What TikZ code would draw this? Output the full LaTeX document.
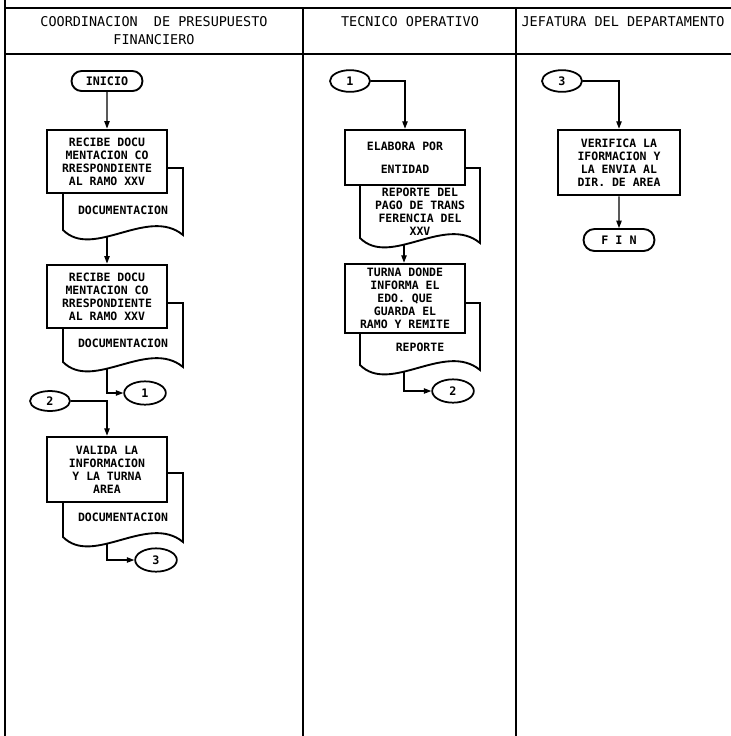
\documentclass[tikz,border=0pt]{standalone}
\usepackage{fontspec}
\setmonofont{DejaVu Sans Mono}
\usetikzlibrary{arrows.meta,shapes.geometric,shapes.misc}

% document sheet with wavy bottom: x, y, height, name, text height, text
\newcommand{\docpage}[6]{%
  \begin{scope}[shift={(#1,#2)}]
    \draw[docline] (0,0) -- (120,0) -- (120,#3+5) .. controls (85,#3-24) and (30,#3+30) .. (0,#3) -- cycle;
    \node[doctext] (#4txt) at (60,#5) {#6};
    \coordinate (#4) at (44,#3+7);
  \end{scope}}

\begin{document}
\begin{tikzpicture}[x=0.3mm,y=-0.3mm,font=\ttfamily,
    lane/.style={line width=0.9pt},
    head/.style={align=center,font=\ttfamily\fontsize{11.5}{15.3}\selectfont},
    proc/.style={draw,line width=2.2pt,fill=white,minimum width=36mm,inner sep=1pt,align=center,font=\ttfamily\bfseries\fontsize{9.8}{11}\selectfont},
    docline/.style={line width=1.6pt,fill=white},
    doctext/.style={align=center,inner sep=1pt,font=\ttfamily\bfseries\fontsize{9.8}{11}\selectfont},
    term/.style={draw,rounded rectangle,line width=1.6pt,fill=white,minimum width=22mm,minimum height=6mm,inner sep=1pt,font=\ttfamily\bfseries\fontsize{10}{10}\selectfont},
    conn/.style={draw,ellipse,line width=1.5pt,fill=white,minimum width=12.5mm,minimum height=7mm,inner sep=0pt,font=\ttfamily\bfseries\fontsize{10}{10}\selectfont},
    flow/.style={line width=1pt,-{Triangle[length=2.2mm,width=1.6mm]}}]
  \useasboundingbox (0,0) rectangle (731,736);
  % lanes
  \draw[lane] (5,0) -- (5,736);
  \draw[lane] (5,8) -- (731,8);
  \draw[lane] (5,54) -- (731,54);
  \draw[lane] (303,8) -- (303,736);
  \draw[lane] (516,8) -- (516,736);
  \node[head] (h1) at (154,31) {COORDINACION~ DE PRESUPUESTO\\FINANCIERO};
  \node[head] (h2) at (410,22) {TECNICO OPERATIVO};
  \node[head] (h3) at (623,22) {JEFATURA DEL DEPARTAMENTO};
  % documents
  \docpage{63}{168}{62}{d1}{42}{DOCUMENTACION}
  \docpage{63}{303}{59}{d2}{40}{DOCUMENTACION}
  \docpage{63}{473}{64}{d3}{44}{DOCUMENTACION}
  \docpage{360}{168}{70}{d4}{44}{REPORTE DEL\\PAGO DE TRANS\\FERENCIA DEL\\XXV}
  \docpage{360}{303}{62}{d5}{44}{REPORTE}
  % coordinacion
  \node[term] (inicio) at (107,81) {INICIO};
  \node[proc,minimum height=19mm] (rec1) at (107,161.5) {RECIBE DOCU\\MENTACION CO\\RRESPONDIENTE\\AL RAMO XXV};
  \node[proc,minimum height=19mm] (rec2) at (107,296.5) {RECIBE DOCU\\MENTACION CO\\RRESPONDIENTE\\AL RAMO XXV};
  \node[proc,minimum height=19.5mm] (val) at (107,469.5) {VALIDA LA\\INFORMACION\\Y LA TURNA\\AREA};
  \node[conn] (k1) at (145,393) {1};
  \node[conn,minimum width=12mm,minimum height=6mm] (o2) at (50,401) {2};
  \node[conn] (k3) at (156,560) {3};
  % tecnico
  \node[conn,minimum width=12mm,minimum height=6.5mm] (c1) at (350,81) {1};
  \node[proc,minimum height=16.5mm] (elab) at (405,157.5) {ELABORA POR\\[9pt]ENTIDAD};
  \node[proc,minimum height=20.7mm] (turna) at (405,298.5) {TURNA DONDE\\INFORMA EL\\EDO. QUE\\GUARDA EL\\RAMO Y REMITE};
  \node[conn] (k2) at (453,391) {2};
  % jefatura
  \node[conn,minimum width=12mm,minimum height=6.5mm] (c3) at (562,81) {3};
  \node[proc,minimum height=19.5mm,minimum width=36.6mm] (verif) at (619,162.5) {VERIFICA LA\\IFORMACION Y\\LA ENVIA AL\\DIR. DE AREA};
  \node[term,minimum height=6.6mm] (fin) at (619,240) {F I N};
  % flow
  \draw[flow] (inicio) -- (rec1);
  \draw[flow] (d1) -- (d1 |- rec2.north);
  \draw[flow] (d2) |- (k1);
  \draw[flow] (o2) -| (val);
  \draw[flow] (d3) |- (k3);
  \draw[flow] (c1) -| (elab);
  \draw[flow] (d4) -- (d4 |- turna.north);
  \draw[flow] (d5) |- (k2);
  \draw[flow] (c3) -| (verif);
  \draw[flow] (verif) -- (fin);
\end{tikzpicture}
\end{document}
